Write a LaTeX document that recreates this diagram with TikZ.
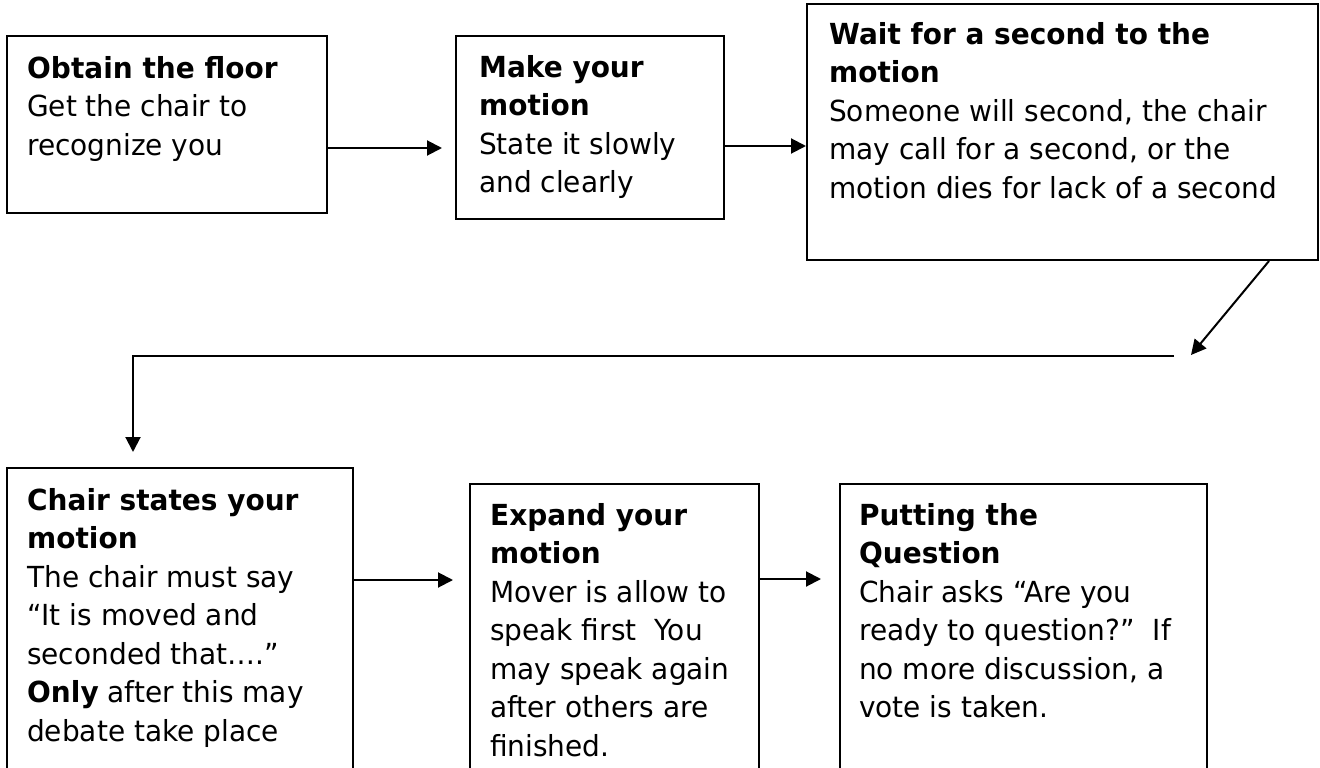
\documentclass[tikz,border=0pt]{standalone}
\usepackage{fontspec}
\setmainfont{DejaVu Sans}[FakeStretch=0.965]
\usetikzlibrary{arrows.meta}
\begin{document}
\begin{tikzpicture}[x=1pt,y=-1pt,
  box/.style={draw, line width=2pt, anchor=north west, inner sep=0pt, rectangle},
  txt/.style={anchor=north west, inner sep=0pt, align=left, font=\fontsize{29pt}{38.5pt}\selectfont},
  arr/.style={line width=2pt, -{Triangle[length=15pt,width=15pt]}}]
\clip (0,0) rectangle (1320,768);
% boxes
\node[box, minimum width=320pt, minimum height=177pt] (b1) at (6,35) {};
\node[box, minimum width=268pt, minimum height=183pt] (b2) at (455,35) {};
\node[box, minimum width=511pt, minimum height=256pt] (b3) at (806,3) {};
\node[box, minimum width=346pt, minimum height=330pt] (b4) at (6,467) {};
\node[box, minimum width=289pt, minimum height=320pt] (b5) at (469,483) {};
\node[box, minimum width=367pt, minimum height=320pt] (b6) at (839,483) {};
% texts (first line baseline = node top + 30)
\node[txt] (t1) at (27,48) {\rule{0pt}{30pt}\textbf{Obtain the floor}\\Get the chair to\\recognize you};
\node[txt] (t2) at (479,47) {\rule{0pt}{30pt}\textbf{Make your}\\\textbf{motion}\\State it slowly\\and clearly};
\node[txt] (t3) at (829,14) {\rule{0pt}{30pt}\textbf{Wait for a second to the}\\\textbf{motion}\\Someone will second, the chair\\may call for a second, or the\\motion dies for lack of a second};
\node[txt] (t4) at (27,480) {\rule{0pt}{30pt}\textbf{Chair states your}\\\textbf{motion}\\The chair must say\\“It is moved and\\seconded that….”\\\textbf{Only} after this may\\debate take place};
\node[txt] (t5) at (490,495) {\rule{0pt}{30pt}\textbf{Expand your}\\\textbf{motion}\\Mover is allow to\\speak first\ \ You\\may speak again\\after others are\\finished.};
\node[txt] (t6) at (859,495) {\rule{0pt}{30pt}\textbf{Putting the}\\\textbf{Question}\\Chair asks “Are you\\ready to question?”\ \ If\\no more discussion, a\\vote is taken.};
% connector points
\coordinate (d) at (1191,355);
\coordinate (h) at (1174,356);
\coordinate (v) at (133,452);
% connectors
\draw[arr] (b1.east |- 0,148) -- ([xshift=-13pt]b2.west |- 0,148);
\draw[arr] (b2.east |- 0,146) -- (b3.west |- 0,146);
\draw[arr] ([xshift=-50pt]b3.south east) -- (d);
\draw[arr] (h) -| (v);
\draw[arr] (b4.east |- 0,580) -- ([xshift=-16pt]b5.west |- 0,580);
\draw[arr] (b5.east |- 0,579) -- ([xshift=-18pt]b6.west |- 0,579);
\end{tikzpicture}
\end{document}
